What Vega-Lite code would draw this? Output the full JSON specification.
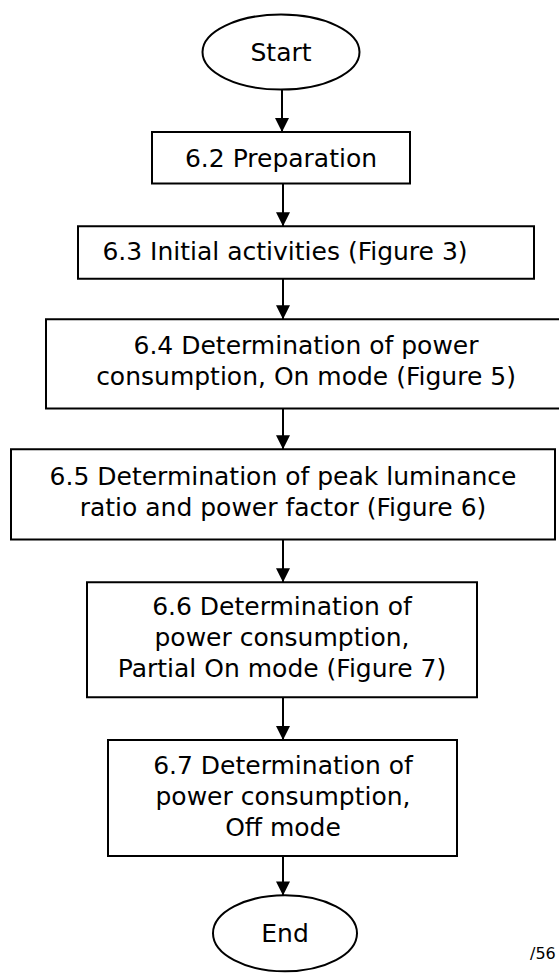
{
  "$schema": "https://vega.github.io/schema/vega-lite/v6.json",
  "width": 559,
  "height": 976,
  "autosize": {"type": "fit", "contains": "padding"},
  "padding": 0,
  "background": "white",
  "config": {"view": {"stroke": null}},
  "datasets": {
    "boxes": [
      {"id": "6.2", "label": "6.2 Preparation", "left": 152, "right": 410, "top": 133, "bottom": 185, "tx": 281, "ty": 160},
      {"id": "6.3", "label": "6.3 Initial activities (Figure 3)", "left": 78, "right": 534, "top": 228, "bottom": 281, "tx": 285, "ty": 254},
      {"id": "6.4", "label": "6.4 Determination of power\nconsumption, On mode (Figure 5)", "left": 46, "right": 566, "top": 322, "bottom": 412, "tx": 306, "ty": 349},
      {"id": "6.5", "label": "6.5 Determination of peak luminance\nratio and power factor (Figure 6)", "left": 11, "right": 555, "top": 453, "bottom": 544, "tx": 283, "ty": 481},
      {"id": "6.6", "label": "6.6 Determination of\npower consumption,\nPartial On mode (Figure 7)", "left": 87, "right": 477, "top": 587, "bottom": 703, "tx": 282, "ty": 612},
      {"id": "6.7", "label": "6.7 Determination of\npower consumption,\nOff mode", "left": 108, "right": 457, "top": 746, "bottom": 863, "tx": 283, "ty": 772}
    ],
    "terminals": [
      {"name": "Start", "cx": 281, "cy": 52.5},
      {"name": "End", "cx": 285, "cy": 941}
    ],
    "edges": [
      {"x": 282, "from": 90, "to": 133},
      {"x": 283, "from": 185, "to": 228},
      {"x": 283, "from": 281, "to": 322},
      {"x": 283, "from": 412, "to": 453},
      {"x": 283, "from": 544, "to": 587},
      {"x": 283, "from": 703, "to": 746},
      {"x": 283, "from": 863, "to": 903}
    ],
    "notes": [
      {"text": "/56", "x": 530, "y": 970}
    ]
  },
  "layer": [
    {
      "data": {"name": "boxes"},
      "mark": {"type": "rect", "fill": "white", "stroke": "black", "strokeWidth": 2, "clip": true},
      "encoding": {
        "x": {"field": "left", "type": "quantitative", "scale": {"domain": [0, 559], "nice": false, "zero": false}, "axis": null},
        "x2": {"field": "right"},
        "y": {"field": "top", "type": "quantitative", "scale": {"domain": [0, 976], "nice": false, "zero": false, "reverse": true}, "axis": null},
        "y2": {"field": "bottom"}
      }
    },
    {
      "data": {"name": "terminals"},
      "transform": [{"filter": "datum.name === 'Start'"}],
      "mark": {"type": "point", "shape": "M-1,0A1,0.478 0 1 0 1,0A1,0.478 0 1 0 -1,0Z", "size": 24649, "filled": true, "fill": "white", "stroke": "black", "strokeWidth": 2, "opacity": 1, "fillOpacity": 1, "strokeOpacity": 1},
      "encoding": {
        "x": {"field": "cx", "type": "quantitative", "scale": {"domain": [0, 559], "nice": false, "zero": false}, "axis": null},
        "y": {"field": "cy", "type": "quantitative", "scale": {"domain": [0, 976], "nice": false, "zero": false, "reverse": true}, "axis": null}
      }
    },
    {
      "data": {"name": "terminals"},
      "transform": [{"filter": "datum.name === 'End'"}],
      "mark": {"type": "point", "shape": "M-1,0A1,0.528 0 1 0 1,0A1,0.528 0 1 0 -1,0Z", "size": 20736, "filled": true, "fill": "white", "stroke": "black", "strokeWidth": 2, "opacity": 1, "fillOpacity": 1, "strokeOpacity": 1},
      "encoding": {
        "x": {"field": "cx", "type": "quantitative", "scale": {"domain": [0, 559], "nice": false, "zero": false}, "axis": null},
        "y": {"field": "cy", "type": "quantitative", "scale": {"domain": [0, 976], "nice": false, "zero": false, "reverse": true}, "axis": null}
      }
    },
    {
      "data": {"name": "edges"},
      "mark": {"type": "rule", "stroke": "black", "strokeWidth": 2},
      "encoding": {
        "x": {"field": "x", "type": "quantitative", "scale": {"domain": [0, 559], "nice": false, "zero": false}, "axis": null},
        "y": {"field": "from", "type": "quantitative", "scale": {"domain": [0, 976], "nice": false, "zero": false, "reverse": true}, "axis": null},
        "y2": {"field": "to"}
      }
    },
    {
      "data": {"name": "edges"},
      "mark": {"type": "point", "shape": "M-1,-1L1,-1L0,1Z", "size": 196, "filled": true, "fill": "black", "stroke": null, "opacity": 1, "yOffset": -7},
      "encoding": {
        "x": {"field": "x", "type": "quantitative", "scale": {"domain": [0, 559], "nice": false, "zero": false}, "axis": null},
        "y": {"field": "to", "type": "quantitative", "scale": {"domain": [0, 976], "nice": false, "zero": false, "reverse": true}, "axis": null}
      }
    },
    {
      "data": {"name": "boxes"},
      "mark": {"type": "text", "font": "DejaVu Sans", "fontSize": 25, "lineHeight": 31, "lineBreak": "\n", "align": "center", "baseline": "middle", "color": "black"},
      "encoding": {
        "x": {"field": "tx", "type": "quantitative", "scale": {"domain": [0, 559], "nice": false, "zero": false}, "axis": null},
        "y": {"field": "ty", "type": "quantitative", "scale": {"domain": [0, 976], "nice": false, "zero": false, "reverse": true}, "axis": null},
        "text": {"field": "label", "type": "nominal"}
      }
    },
    {
      "data": {"name": "terminals"},
      "mark": {"type": "text", "font": "DejaVu Sans", "fontSize": 25, "align": "center", "baseline": "middle", "color": "black", "dy": 1},
      "encoding": {
        "x": {"field": "cx", "type": "quantitative", "scale": {"domain": [0, 559], "nice": false, "zero": false}, "axis": null},
        "y": {"field": "cy", "type": "quantitative", "scale": {"domain": [0, 976], "nice": false, "zero": false, "reverse": true}, "axis": null},
        "text": {"field": "name", "type": "nominal"}
      }
    },
    {
      "data": {"name": "notes"},
      "mark": {"type": "text", "font": "DejaVu Sans", "fontSize": 16, "align": "left", "baseline": "bottom", "color": "black"},
      "encoding": {
        "x": {"field": "x", "type": "quantitative", "scale": {"domain": [0, 559], "nice": false, "zero": false}, "axis": null},
        "y": {"field": "y", "type": "quantitative", "scale": {"domain": [0, 976], "nice": false, "zero": false, "reverse": true}, "axis": null},
        "text": {"field": "text", "type": "nominal"}
      }
    }
  ]
}
